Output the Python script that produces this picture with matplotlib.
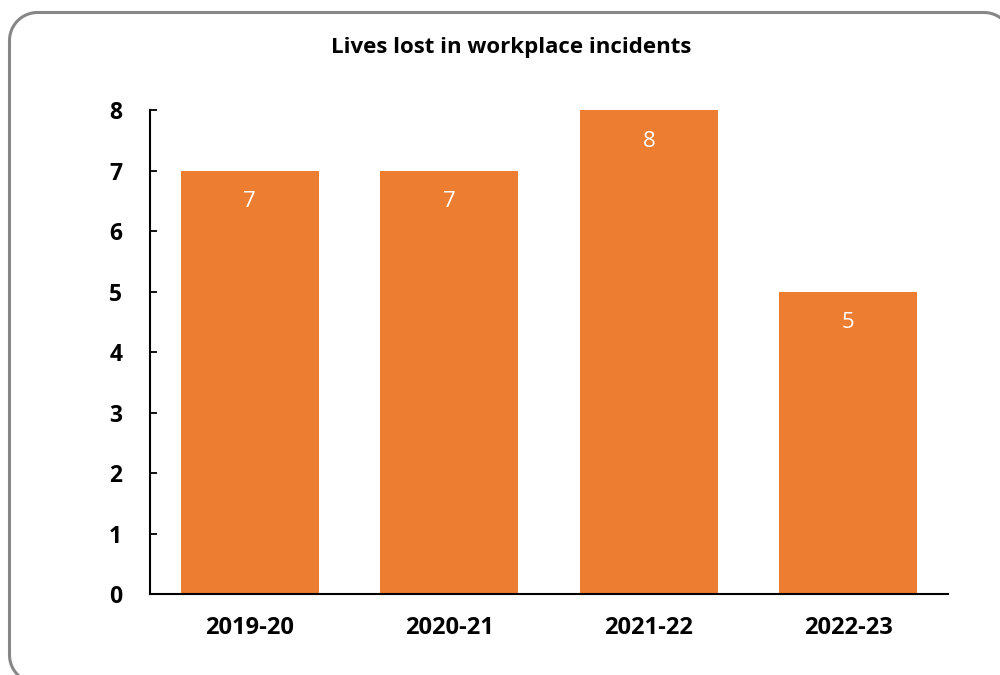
import numpy as np
import matplotlib
matplotlib.use("Agg")
import matplotlib.pyplot as plt

# ── Data ─────────────────────────────────────────────────────────────────────
YEARS = ["2019-20", "2020-21", "2021-22", "2022-23"]
LIVES_LOST = [7, 7, 8, 5]
Y_TICKS = [0, 1, 2, 3, 4, 5, 6, 7, 8]

BAR_COLOR = "#ED7D31"
BORDER_COLOR = "#878787"

plt.rcParams["font.family"] = ["Open Sans", "DejaVu Sans"]

fig = plt.figure(figsize=(10, 6.75), dpi=100, facecolor="white")

# ── Rounded chart border (pixel coords, runs off right/bottom edges) ─────────
bg = fig.add_axes([0, 0, 1, 1])
bg.set_xlim(0, 1000)
bg.set_ylim(675, 0)
bg.axis("off")

L, T, R, B, RAD = 9.5, 12.5, 1012, 683, 28
corners = [(R - RAD, T + RAD, -90, 0), (R - RAD, B - RAD, 0, 90),
           (L + RAD, B - RAD, 90, 180), (L + RAD, T + RAD, 180, 270)]
px, py = [], []
for cx, cy, a0, a1 in corners:
    ang = np.radians(np.linspace(a0, a1, 20))
    px.extend(cx + RAD * np.cos(ang))
    py.extend(cy + RAD * np.sin(ang))
px.append(px[0])
py.append(py[0])
bg.plot(px, py, color=BORDER_COLOR, linewidth=2.2, clip_on=False)

# ── Bars ─────────────────────────────────────────────────────────────────────
ax = fig.add_axes([0.150, 0.120, 0.798, 0.717])

x = range(len(YEARS))
ax.bar(x, LIVES_LOST, width=0.69, color=BAR_COLOR, zorder=2)

for xi, v in zip(x, LIVES_LOST):
    ax.annotate(str(v), xy=(xi, v), xytext=(0, -22.5), textcoords="offset points",
                ha="center", va="center", color="white", fontsize=16)

ax.set_xlim(-0.5, len(YEARS) - 0.5)
ax.set_ylim(0, 8)
ax.set_yticks(Y_TICKS)
ax.set_xticks(list(x))
ax.set_xticklabels(YEARS, fontsize=17, fontweight="bold")
ax.set_yticklabels([str(t) for t in Y_TICKS], fontsize=16.5, fontweight="bold")

ax.tick_params(axis="x", length=0, pad=16)
ax.tick_params(axis="y", direction="in", length=5, width=1.3, pad=20)

for side in ("top", "right"):
    ax.spines[side].set_visible(False)
for side in ("left", "bottom"):
    ax.spines[side].set_linewidth(1.5)
    ax.spines[side].set_color("black")

fig.text(0.511, 0.930, "Lives lost in workplace incidents", ha="center", va="center",
         fontsize=16, fontweight="bold")

fig.savefig("out.png", dpi=100)
